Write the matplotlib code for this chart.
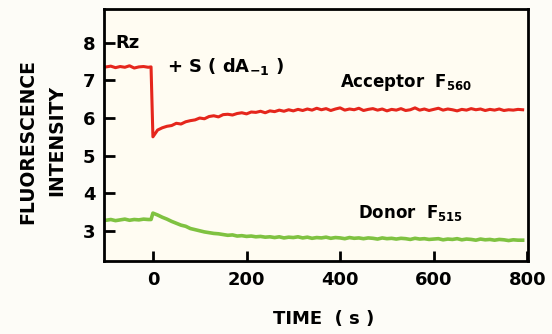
import numpy as np
import matplotlib
matplotlib.use('Agg')
import matplotlib.pyplot as plt

plt.rcParams['font.family'] = 'DejaVu Sans'
plt.rcParams['font.weight'] = 'bold'
plt.rcParams['mathtext.fontset'] = 'custom'
plt.rcParams['mathtext.rm'] = 'DejaVu Sans:bold'
plt.rcParams['mathtext.default'] = 'rm'

#%% Datos
t_pre = [-105, -100, -90, -80, -70, -60, -50, -40, -30, -20, -10, -4]
t_post = list(range(0, 800, 10))

acceptor_pre = [7.35, 7.36, 7.38, 7.34, 7.37, 7.35, 7.39, 7.33, 7.36, 7.37, 7.35, 7.36]
acceptor_post = [5.50, 5.68, 5.74, 5.78, 5.80, 5.86, 5.84, 5.90, 5.93, 5.95, 6.00,
                 5.98, 6.04, 6.06, 6.03, 6.09, 6.10, 6.08, 6.12, 6.14, 6.11,
                 6.16, 6.15, 6.18, 6.14, 6.19, 6.17, 6.21, 6.18, 6.22, 6.19,
                 6.23, 6.20, 6.24, 6.21, 6.26, 6.22, 6.25, 6.20, 6.24, 6.27,
                 6.21, 6.24, 6.22, 6.26, 6.20, 6.23, 6.25, 6.21, 6.24, 6.19,
                 6.23, 6.21, 6.25, 6.20, 6.22, 6.27, 6.21, 6.24, 6.20, 6.23,
                 6.26, 6.21, 6.24, 6.22, 6.19, 6.23, 6.21, 6.25, 6.22, 6.24,
                 6.20, 6.23, 6.21, 6.24, 6.20, 6.22, 6.21, 6.23, 6.22]

donor_pre = [3.29, 3.28, 3.30, 3.27, 3.29, 3.31, 3.28, 3.30, 3.29, 3.31, 3.30, 3.30]
donor_post = [3.47, 3.42, 3.36, 3.31, 3.25, 3.20, 3.15, 3.12, 3.06, 3.03, 3.00,
              2.97, 2.95, 2.93, 2.92, 2.90, 2.88, 2.89, 2.86, 2.87, 2.85,
              2.86, 2.84, 2.85, 2.83, 2.84, 2.82, 2.84, 2.81, 2.83, 2.82,
              2.84, 2.81, 2.83, 2.80, 2.82, 2.81, 2.83, 2.80, 2.82, 2.81,
              2.79, 2.82, 2.80, 2.81, 2.79, 2.81, 2.80, 2.78, 2.81, 2.79,
              2.80, 2.78, 2.80, 2.79, 2.77, 2.80, 2.78, 2.79, 2.77, 2.78,
              2.79, 2.76, 2.78, 2.77, 2.79, 2.76, 2.78, 2.77, 2.75, 2.78,
              2.76, 2.77, 2.75, 2.77, 2.76, 2.74, 2.76, 2.75, 2.75]

xticks = [0, 200, 400, 600, 800]
yticks = [3, 4, 5, 6, 7, 8]

#%% Figura
fig = plt.figure(figsize=(5.52, 3.34), dpi=100)
fig.patch.set_facecolor('#fdfcf7')
ax = fig.add_axes([0.188, 0.219, 0.769, 0.754])
ax.set_facecolor('#fffcf2')

ax.plot(t_pre + t_post, acceptor_pre + acceptor_post, color='#e5261c', lw=2.2)
ax.plot(t_pre + t_post, donor_pre + donor_post, color='#7fc241', lw=2.6)

ax.set_xlim(-105, 802)
ax.set_ylim(2.2, 8.9)
ax.set_xticks(xticks)
ax.set_yticks(yticks)
ax.tick_params(direction='in', width=2, labelsize=13)
ax.tick_params(axis='y', length=8, pad=6)
ax.tick_params(axis='x', length=7, pad=7)
for s in ax.spines.values():
    s.set_linewidth(2)

ax.text(-80, 8.0, 'Rz', fontsize=13, va='center', ha='left')
ax.text(30, 7.36, '+ S ( dA$_{-1}$ )', fontsize=13, va='center', ha='left')
ax.text(400, 6.94, 'Acceptor  F$_{560}$', fontsize=12, va='center', ha='left')
ax.text(438, 3.48, 'Donor  F$_{515}$', fontsize=12, va='center', ha='left')

fig.text(28 / 552, 1 - 142 / 334, 'FLUORESCENCE', rotation=90, fontsize=13.5,
         ha='center', va='center')
fig.text(57 / 552, 1 - 140 / 334, 'INTENSITY', rotation=90, fontsize=13.5,
         ha='center', va='center')
fig.text(324 / 552, 1 - 319 / 334, 'TIME  ( s )', fontsize=13,
         ha='center', va='center')

fig.savefig('out.png', dpi=100, facecolor=fig.get_facecolor())
